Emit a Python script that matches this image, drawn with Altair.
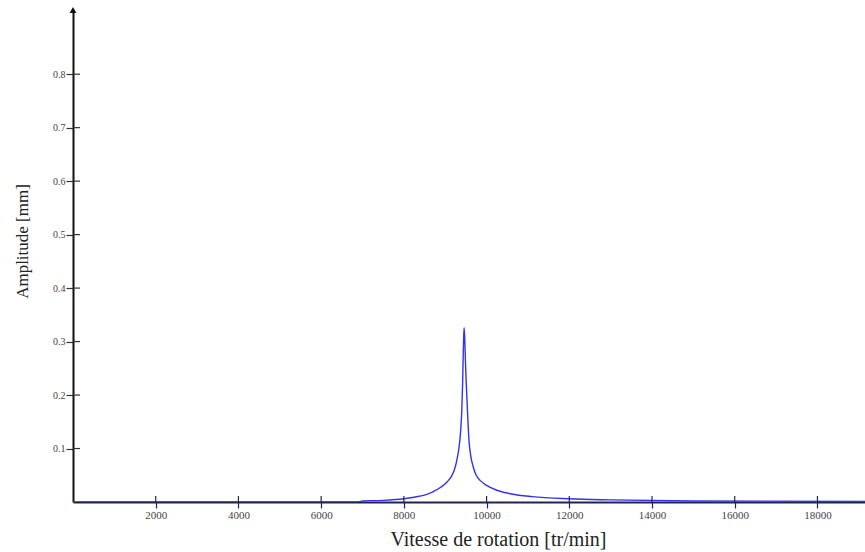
import altair as alt
import pandas as pd

# Rotation speed [tr/min] and amplitude [mm]
speed = [0, 3000, 6900, 7000, 7500, 8000, 8250, 8500, 8700, 8900, 9050, 9150, 9220, 9280, 9330,
         9370, 9400, 9420, 9440, 9455, 9470, 9490, 9510, 9530, 9550, 9580, 9620, 9680,
         9750, 9850, 10000, 10250, 10600, 11100, 12000, 13000, 15000, 19150]
amplitude = [0.0, 0.0, 0.0, 0.002, 0.003, 0.006, 0.009, 0.013, 0.019, 0.028, 0.038, 0.048, 0.06, 0.078, 0.10,
             0.13, 0.17, 0.22, 0.29, 0.326, 0.31, 0.26, 0.22, 0.185, 0.15, 0.11, 0.085, 0.065,
             0.05, 0.04, 0.031, 0.022, 0.015, 0.01, 0.006, 0.004, 0.002, 0.001]

x_ticks = [2000, 4000, 6000, 8000, 10000, 12000, 14000, 16000, 18000]
y_ticks = [0.1, 0.2, 0.3, 0.4, 0.5, 0.6, 0.7, 0.8]

X_MAX = 19150
Y_MAX = 0.92
FONT = "Liberation Serif"

df = pd.DataFrame({"speed": speed, "amp": amplitude})
xs = alt.Scale(domain=[0, X_MAX], nice=False, zero=False)
ys = alt.Scale(domain=[0, Y_MAX], nice=False)

x_axis = alt.Axis(values=x_ticks, title="Vitesse de rotation [tr/min]",
                  grid=False, domainColor="#23234f", domainWidth=2,
                  tickColor="#23234f", tickSize=6, tickWidth=1.2,
                  labelFont=FONT, labelFontSize=11, labelColor="#444444",
                  labelPadding=1, format="d",
                  titleFont=FONT, titleFontSize=20, titleFontWeight="normal",
                  titleColor="#222222", titleX=425, titleY=47,
                  titleBaseline="bottom")
y_axis = alt.Axis(values=y_ticks, title="Amplitude [mm]",
                  grid=False, domainColor="#111111", domainWidth=2,
                  tickColor="#333333", tickSize=7, tickWidth=1.2,
                  labelFont=FONT, labelFontSize=10, labelColor="#444444",
                  labelPadding=1, format=".1f",
                  titleFont=FONT, titleFontSize=17, titleFontWeight="normal",
                  titleColor="#222222", titleX=-42, titleY=231,
                  titleAngle=-90, titleBaseline="bottom")

line = alt.Chart(df).mark_line(color="#3333ee", strokeWidth=1.4, clip=True,
                               interpolate="monotone").encode(
    x=alt.X("speed:Q", scale=xs, axis=x_axis),
    y=alt.Y("amp:Q", scale=ys, axis=y_axis),
)

ydf = pd.DataFrame({"v": y_ticks})
yin = alt.Chart(ydf).mark_rule(color="#333333", strokeWidth=1.2).encode(
    y=alt.Y("v:Q", scale=ys, axis=y_axis), x=alt.value(0), x2=alt.value(7))

xdf = pd.DataFrame({"v": x_ticks})
xin = alt.Chart(xdf).mark_rule(color="#23234f", strokeWidth=1.2).encode(
    x=alt.X("v:Q", scale=xs, axis=x_axis), y=alt.value(492), y2=alt.value(486))

arrow = alt.Chart(pd.DataFrame({"a": [0]})).mark_point(
    shape="triangle-up", filled=True, color="#111111", size=45, opacity=1
).encode(x=alt.datum(0, scale=xs, axis=x_axis), y=alt.datum(Y_MAX, scale=ys, axis=y_axis))

chart = alt.layer(line, yin, xin, arrow).properties(
    width=792, height=492,
    background="white",
    autosize=alt.AutoSizeParams(type="none"),
    padding={"left": 73, "top": 10, "right": 0, "bottom": 50},
).configure_view(stroke=None, strokeWidth=0)

chart.save("out.html", embed_options={"renderer": "svg", "actions": False})
